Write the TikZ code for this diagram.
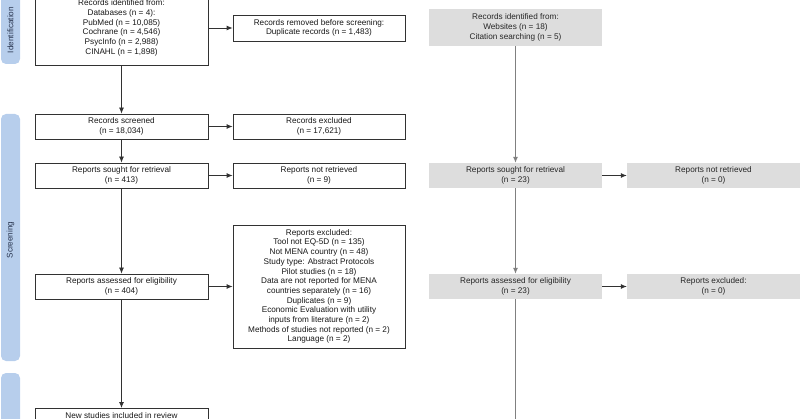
\documentclass[tikz,border=0pt]{standalone}
\usepackage{fontspec}
\setmainfont{Liberation Sans}
\usetikzlibrary{arrows.meta}
\definecolor{barblue}{RGB}{183,206,236}
\definecolor{bartext}{RGB}{40,52,78}
\definecolor{gfill}{RGB}{221,221,221}
\definecolor{edge}{RGB}{50,50,50}
\tikzset{
  x=1pt, y=-1pt,
  box/.style={font=\fontsize{8.2}{9.7}\selectfont, align=center, inner sep=0pt, text=black!90},
  wbox/.style={box, draw=edge, line width=0.8pt, fill=white},
  gbox/.style={box, fill=gfill, text=black!85},
  bartxt/.style={font=\fontsize{8.2}{9}\selectfont, text=bartext, rotate=90},
  arr/.style={line width=0.8pt, draw=edge, -{Latex[length=6pt,width=5pt]}},
  garr/.style={line width=0.9pt, draw=black!50, -{Latex[length=6pt,width=5pt]}},
  gline/.style={line width=0.9pt, draw=black!50},
}
\begin{document}
\begin{tikzpicture}
\useasboundingbox (0,0) rectangle (800,419);
% side bars
\fill[barblue, rounded corners=5pt] (1,-20) rectangle (20,64);
\node[bartxt] (lid) at (10.5,30) {Identification};
\fill[barblue, rounded corners=5pt] (1,114) rectangle (20,361);
\node[bartxt] (lsc) at (10.5,240) {Screening};
\fill[barblue, rounded corners=5pt] (1,373) rectangle (20,440);

% left column
\node[wbox, minimum width=173pt, minimum height=74pt] (id) at (121.5,28)
  {Records identified from:\\Databases (n = 4):\\PubMed (n = 10,085)\\Cochrane (n = 4,546)\\PsycInfo (n = 2,988)\\CINAHL (n = 1,898)};
\node[wbox, minimum width=172pt, minimum height=26pt] (rem) at (319,28)
  {Records removed before screening:\\Duplicate records (n = 1,483)};
\node[wbox, minimum width=173pt, minimum height=25pt] (scr) at (121.5,126.5)
  {Records screened\\(n = 18,034)};
\node[wbox, minimum width=172pt, minimum height=25pt] (exc) at (319,126.5)
  {Records excluded\\(n = 17,621)};
\node[wbox, minimum width=173pt, minimum height=25pt] (sou) at (121.5,175.5)
  {Reports sought for retrieval\\(n = 413)};
\node[wbox, minimum width=172pt, minimum height=25pt] (nre) at (319,175.5)
  {Reports not retrieved\\(n = 9)};
\node[wbox, minimum width=173pt, minimum height=25pt] (ass) at (121.5,286.5)
  {Reports assessed for eligibility\\(n = 404)};
\node[wbox, minimum width=172pt, minimum height=123pt] (rex) at (319,286.5)
  {Reports excluded:\\Tool not EQ-5D (n = 135)\\Not MENA country (n = 48)\\Study type: Abstract Protocols\\Pilot studies (n = 18)\\Data are not reported for MENA\\countries separately (n = 16)\\Duplicates (n = 9)\\Economic Evaluation with utility\\inputs from literature (n = 2)\\Methods of studies not reported (n = 2)\\Language (n = 2)};
\node[wbox, minimum width=173pt, minimum height=25pt, anchor=north] (inc) at (121.5,408)
  {New studies included in review\\\phantom{(n)}};

% right column
\node[gbox, minimum width=173pt, minimum height=37pt] (web) at (515.5,27.5)
  {Records identified from:\\Websites (n = 18)\\Citation searching (n = 5)};
\node[gbox, minimum width=173pt, minimum height=25pt] (sou2) at (515.5,175.5)
  {Reports sought for retrieval\\(n = 23)};
\node[gbox, minimum width=173pt, minimum height=25pt] (nre2) at (713.5,175.5)
  {Reports not retrieved\\(n = 0)};
\node[gbox, minimum width=173pt, minimum height=25pt] (ass2) at (515.5,286.5)
  {Reports assessed for eligibility\\(n = 23)};
\node[gbox, minimum width=173pt, minimum height=25pt] (rex2) at (713.5,286.5)
  {Reports excluded:\\(n = 0)};
\coordinate (end2) at (515.5,425);

% connectors
\draw[arr] (id) -- (rem);
\draw[arr] (id) -- (scr);
\draw[arr] (scr) -- (exc);
\draw[arr] (scr) -- (sou);
\draw[arr] (sou) -- (nre);
\draw[arr] (sou) -- (ass);
\draw[arr] (ass) -- (rex);
\draw[arr] (ass) -- (inc);
\draw[garr] (web) -- (sou2);
\draw[arr] (sou2) -- (nre2);
\draw[garr] (sou2) -- (ass2);
\draw[arr] (ass2) -- (rex2);
\draw[gline] (ass2) -- (end2);
\end{tikzpicture}
\end{document}
